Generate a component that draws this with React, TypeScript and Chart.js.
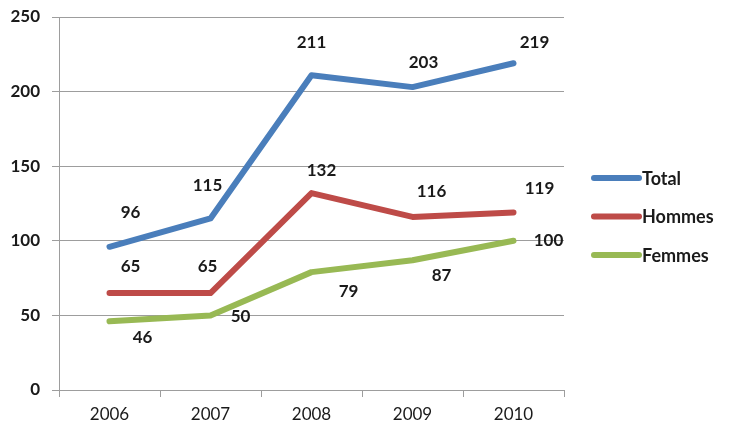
import React, { useEffect, useRef } from "react";
import { Chart, registerables } from "chart.js";

Chart.register(...registerables);

const years = ["2006", "2007", "2008", "2009", "2010"];
const totalValues = [96, 115, 211, 203, 219];
const hommesValues = [65, 65, 132, 116, 119];
const femmesValues = [46, 50, 79, 87, 100];
const yTicks = [0, 50, 100, 150, 200, 250];

const FONT = "Lato, 'Open Sans', sans-serif";

// label offsets (in px, relative to each point) per series
const totalLabelOffsets = [[21, -34], [-3, -33], [0, -33], [11, -25], [21, -21]];
const hommesLabelOffsets = [[21, -27], [-3, -27], [10, -23], [19, -25], [26, -24]];
const femmesLabelOffsets = [[33, 16], [30, 1], [37, 19], [29, 15], [35, 0]];

const labelPlugin = {
  id: "valueLabels",
  afterDatasetsDraw(chart: any) {
    const ctx = chart.ctx;
    ctx.save();
    ctx.font = `bold 17px ${FONT}`;
    ctx.fillStyle = "#1a1a1a";
    ctx.textAlign = "center";
    ctx.textBaseline = "middle";
    chart.data.datasets.forEach((ds: any, i: number) => {
      const meta = chart.getDatasetMeta(i);
      meta.data.forEach((pt: any, j: number) => {
        const off = ds.labelOffsets[j];
        ctx.fillText(String(ds.data[j]), pt.x + off[0], pt.y + off[1]);
      });
    });
    ctx.restore();
  },
};

const legendPlugin = {
  id: "customLegend",
  afterDraw(chart: any) {
    const ctx = chart.ctx;
    const area = chart.chartArea;
    const x0 = area.right + 30;
    const x1 = x0 + 45;
    const spacing = 38.5;
    const cy = chart.height / 2;
    const n = chart.data.datasets.length;
    ctx.save();
    chart.data.datasets.forEach((ds: any, i: number) => {
      const y = cy + (i - (n - 1) / 2) * spacing;
      ctx.strokeStyle = ds.borderColor;
      ctx.lineWidth = 6;
      ctx.lineCap = "round";
      ctx.beginPath();
      ctx.moveTo(x0, y);
      ctx.lineTo(x1, y);
      ctx.stroke();
      ctx.font = `bold 18px ${FONT}`;
      ctx.fillStyle = "#1a1a1a";
      ctx.textAlign = "left";
      ctx.textBaseline = "middle";
      ctx.fillText(ds.label, x1 + 3, y + 1);
    });
    ctx.restore();
  },
};

export default function App() {
  const ref = useRef<HTMLCanvasElement>(null);

  useEffect(() => {
    document.body.style.margin = "0";
    const canvas = ref.current;
    if (!canvas) return;
    const lineStyle = {
      borderWidth: 6,
      pointRadius: 0,
      pointHoverRadius: 0,
      borderCapStyle: "round" as const,
      borderJoinStyle: "round" as const,
      tension: 0,
      fill: false,
    };
    const chart = new Chart(canvas, {
      type: "line",
      data: {
        labels: years,
        datasets: [
          { label: "Total", data: totalValues, borderColor: "#4A7EBB", backgroundColor: "#4A7EBB", labelOffsets: totalLabelOffsets, ...lineStyle } as any,
          { label: "Hommes", data: hommesValues, borderColor: "#BE4B48", backgroundColor: "#BE4B48", labelOffsets: hommesLabelOffsets, ...lineStyle } as any,
          { label: "Femmes", data: femmesValues, borderColor: "#98B954", backgroundColor: "#98B954", labelOffsets: femmesLabelOffsets, ...lineStyle } as any,
        ],
      },
      options: {
        responsive: false,
        animation: false,
        devicePixelRatio: 1,
        layout: { padding: { left: 0, right: 168, top: 17, bottom: 0 } },
        plugins: {
          legend: { display: false },
          tooltip: { enabled: false },
        },
        scales: {
          x: {
            offset: true,
            grid: {
              display: true,
              drawOnChartArea: false,
              drawTicks: true,
              tickLength: 7,
              offset: true,
              color: "#9d9d9d",
              lineWidth: 1,
            },
            border: { display: true, color: "#9d9d9d", width: 1 },
            ticks: {
              color: "#1a1a1a",
              font: { family: FONT, size: 17 },
              padding: 7,
              maxRotation: 0,
            },
            afterFit(scale: any) {
              scale.height = 43;
              scale.paddingLeft = 0;
              scale.paddingRight = 0;
            },
          },
          y: {
            min: 0,
            max: 250,
            afterBuildTicks(scale: any) {
              scale.ticks = yTicks.map((v) => ({ value: v }));
            },
            grid: {
              display: true,
              drawOnChartArea: true,
              drawTicks: true,
              tickLength: 7,
              color: "#9d9d9d",
              lineWidth: 1,
            },
            border: { display: true, color: "#9d9d9d", width: 1 },
            ticks: {
              color: "#1a1a1a",
              font: { family: FONT, size: 17, weight: "bold" },
              padding: 12,
            },
            afterFit(scale: any) {
              scale.width = 59;
              scale.paddingTop = 0;
              scale.paddingBottom = 0;
            },
          },
        },
      },
      plugins: [labelPlugin, legendPlugin],
    });
    return () => chart.destroy();
  }, []);

  return (
    <div style={{ position: "absolute", left: 0, top: 0, width: 732, height: 433, background: "#fff" }}>
      <canvas ref={ref} width={732} height={433} style={{ width: 732, height: 433, display: "block" }} />
    </div>
  );
}
